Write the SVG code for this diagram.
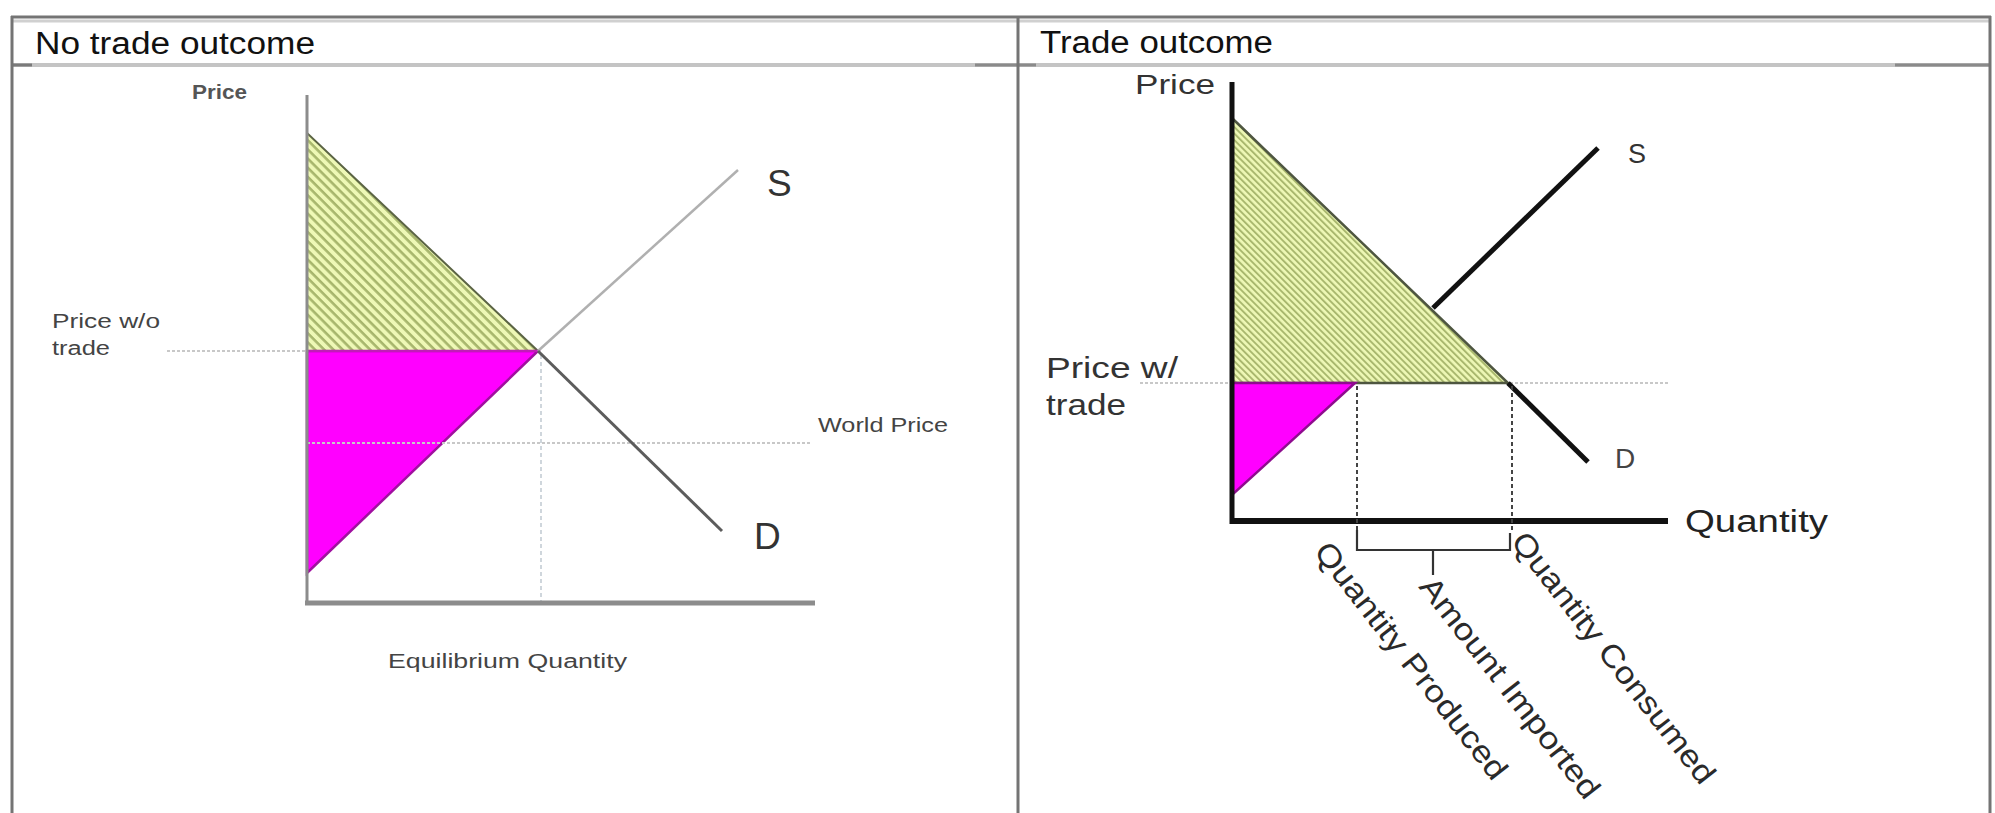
<svg xmlns="http://www.w3.org/2000/svg" width="1995" height="813" viewBox="0 0 1995 813">
<defs>
<pattern id="hatchL" patternUnits="userSpaceOnUse" width="6.5" height="6.5" patternTransform="rotate(-45)">
<rect width="6.5" height="6.5" fill="#eef8b6"/>
<line x1="1.5" y1="0" x2="1.5" y2="6.5" stroke="#a7b66c" stroke-width="2.6"/>
</pattern>
<pattern id="hatchR" patternUnits="userSpaceOnUse" width="4.6" height="4.6" patternTransform="rotate(-45)">
<rect width="4.6" height="4.6" fill="#eef8b6"/>
<line x1="1" y1="0" x2="1" y2="4.6" stroke="#a7b66c" stroke-width="1.9"/>
</pattern>
<style>
.t{font-family:"Liberation Sans",Arial,sans-serif;fill:#222}
.title{font-size:31px;fill:#111}
.lab{font-size:20px;fill:#444}
.big{font-size:37px;fill:#333}
.rl{font-size:29px;fill:#333}
.rot{font-size:31px;fill:#2a2a2a}
.border{stroke:#747474;stroke-width:3;fill:none}
.dot{stroke:#c8c8c8;stroke-width:2;stroke-dasharray:3 2;fill:none}
.vdash{stroke:#444;stroke-width:2;stroke-dasharray:4 3;fill:none}
</style>
</defs>
<rect width="1995" height="813" fill="#ffffff"/>

<g id="table">
<line class="border" x1="11" y1="17" x2="1991" y2="17"/>
<line x1="13" y1="21" x2="1990" y2="21" stroke="#d0d0d0" stroke-width="3"/>
<line x1="13" y1="65" x2="1990" y2="65" stroke="#c4c4c4" stroke-width="4"/>
<line x1="11" y1="65" x2="32" y2="65" stroke="#7a7a7a" stroke-width="3"/>
<line x1="975" y1="65" x2="1036" y2="65" stroke="#8a8a8a" stroke-width="3"/>
<line x1="1895" y1="65" x2="1991" y2="65" stroke="#8a8a8a" stroke-width="3"/>
<line class="border" x1="12" y1="16" x2="12" y2="813"/>
<line class="border" x1="1018" y1="16" x2="1018" y2="813"/>
<line class="border" x1="1990" y1="16" x2="1990" y2="813"/>
</g>

<g id="titles">
<text class="t title" x="35" y="54" textLength="280" lengthAdjust="spacingAndGlyphs">No trade outcome</text>
<text class="t title" x="1040" y="53" textLength="233" lengthAdjust="spacingAndGlyphs">Trade outcome</text>
</g>

<g id="no-trade-graph">
<g id="left-areas">
<polygon points="307,133 307,351 538,351" fill="url(#hatchL)" stroke="#5b6444" stroke-width="2"/>
<polygon points="307,351 538,351 307,573" fill="#ff00ff" stroke="#a0109f" stroke-width="2.5"/>
<line x1="307" y1="351" x2="538" y2="351" stroke="#c01cb8" stroke-width="2"/>
</g>
<g id="left-guides">
<line class="dot" x1="167" y1="351" x2="305" y2="351"/>
<line class="dot" x1="307" y1="443" x2="812" y2="443"/>
<line x1="541" y1="355" x2="541" y2="602" stroke="#cfd6dc" stroke-width="2" stroke-dasharray="4 3"/>
</g>
<g id="left-curves">
<line x1="538" y1="351" x2="738" y2="170" stroke="#b0b0b0" stroke-width="2.5"/>
<line x1="538" y1="351" x2="722" y2="531" stroke="#5c5c5c" stroke-width="3"/>
</g>
<g id="left-axes">
<line x1="307" y1="95" x2="307" y2="605" stroke="#8c8c8c" stroke-width="3"/>
<line x1="305" y1="603" x2="815" y2="603" stroke="#8c8c8c" stroke-width="5"/>
</g>
<g id="left-labels">
<text class="t" x="192" y="99" font-size="21" fill="#4a4a4a" textLength="55" lengthAdjust="spacingAndGlyphs" font-weight="bold" style="fill:#555">Price</text>
<text class="t lab" x="52" y="328" textLength="108" lengthAdjust="spacingAndGlyphs">Price w/o</text>
<text class="t lab" x="52" y="355" textLength="58" lengthAdjust="spacingAndGlyphs">trade</text>
<text class="t lab" x="818" y="432" textLength="130" lengthAdjust="spacingAndGlyphs">World Price</text>
<text class="t big" x="767" y="196">S</text>
<text class="t big" x="754" y="549">D</text>
<text class="t lab" x="388" y="668" textLength="239" lengthAdjust="spacingAndGlyphs">Equilibrium Quantity</text>
</g>
</g>

<g id="trade-graph">
<g id="right-guides">
<line class="dot" x1="1140" y1="383" x2="1670" y2="383"/>
</g>
<g id="right-areas">
<polygon points="1232,118 1232,383 1508,383" fill="url(#hatchR)" stroke="#4e5640" stroke-width="2.5"/>
<polygon points="1232,383 1355,383 1232,495" fill="#ff00ff" stroke="#8e0c8e" stroke-width="2.5"/>
</g>
<g id="right-curves">
<line x1="1433" y1="308" x2="1598" y2="148" stroke="#111" stroke-width="5"/>
<line x1="1508" y1="383" x2="1588" y2="462" stroke="#111" stroke-width="5"/>
</g>
<g id="right-axes">
<line x1="1232" y1="82" x2="1232" y2="524" stroke="#111" stroke-width="5"/>
<line x1="1230" y1="521" x2="1668" y2="521" stroke="#111" stroke-width="6"/>
</g>
<g id="connectors">
<line class="vdash" x1="1357" y1="386" x2="1357" y2="550"/>
<line class="vdash" x1="1512" y1="386" x2="1512" y2="533"/>
<path d="M1357,530 V550 H1510 V533 M1433,550 V575" fill="none" stroke="#333" stroke-width="2.2"/>
</g>
<g id="right-labels">
<text class="t" x="1135" y="94" font-size="28" textLength="80" lengthAdjust="spacingAndGlyphs" style="fill:#333">Price</text>
<text class="t rl" x="1046" y="378" textLength="132" lengthAdjust="spacingAndGlyphs">Price w/</text>
<text class="t rl" x="1046" y="415" textLength="80" lengthAdjust="spacingAndGlyphs">trade</text>
<text class="t" x="1628" y="163" font-size="27" style="fill:#333">S</text>
<text class="t" x="1615" y="468" font-size="28" style="fill:#444">D</text>
<text class="t" x="1685" y="532" font-size="31" textLength="143" lengthAdjust="spacingAndGlyphs" style="fill:#222">Quantity</text>
<text class="t rot" transform="translate(1313,552) rotate(52)" textLength="292" lengthAdjust="spacingAndGlyphs">Quantity Produced</text>
<text class="t rot" transform="translate(1418,587) rotate(52)" textLength="272" lengthAdjust="spacingAndGlyphs">Amount Imported</text>
<text class="t rot" transform="translate(1510,542) rotate(52)" textLength="310" lengthAdjust="spacingAndGlyphs">Quantity Consumed</text>
</g>
</g>
</svg>
